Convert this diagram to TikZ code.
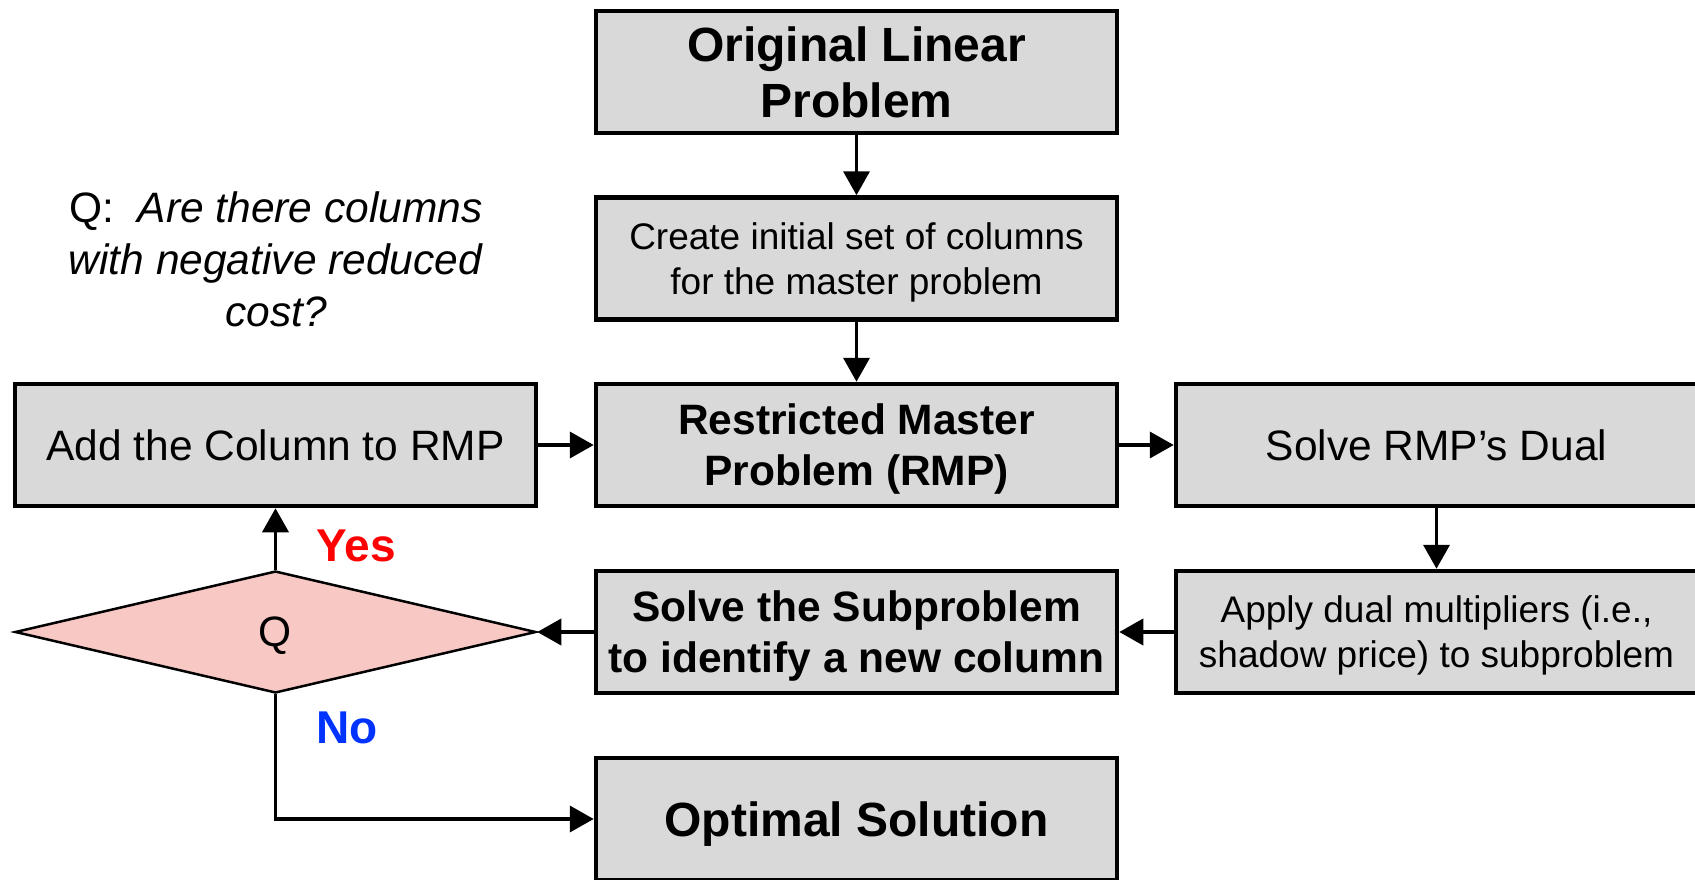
\documentclass[tikz,border=0pt]{standalone}
\usepackage{fontspec}
\setmainfont{Liberation Sans}
\usetikzlibrary{arrows.meta,shapes.geometric}
\definecolor{boxgray}{HTML}{D9D9D9}
\definecolor{qpink}{HTML}{F8C8C4}
\definecolor{yesred}{HTML}{FF0000}
\definecolor{noblue}{HTML}{0033FF}
\begin{document}
\begin{tikzpicture}[x=1bp,y=-1bp,
  flowbox/.style={draw=black, line width=4.5bp, fill=boxgray, minimum width=521bp,
    minimum height=122bp, inner sep=0pt, align=center, text depth=0pt},
  bigbold/.style={font=\fontsize{48bp}{56bp}\selectfont\bfseries},
  midbold/.style={font=\fontsize{42.5bp}{51bp}\selectfont\bfseries},
  midreg/.style={font=\fontsize{42.5bp}{51bp}\selectfont},
  smallreg/.style={font=\fontsize{37bp}{45bp}\selectfont},
  conn/.style={line width=3.8bp, draw=black, -{Triangle[length=24bp,width=26bp]}},
  decision/.style={diamond, draw=black, line width=2.5bp, fill=qpink, minimum width=521bp,
    minimum height=122bp, inner sep=0pt, text depth=0pt, font=\fontsize{42.5bp}{50bp}\selectfont},
  answer/.style={font=\fontsize{46bp}{52bp}\selectfont\bfseries, inner sep=0pt}
]
\useasboundingbox (0,0) rectangle (1695,879);

\node[flowbox, bigbold] (orig) at (856.5,72) {Original Linear\\Problem};
\node[flowbox, smallreg] (init) at (856.5,258.5) {Create initial set of columns\\for the master problem};
\node[flowbox, midbold] (rmp) at (856.5,445) {Restricted Master\\Problem (RMP)};
\node[flowbox, midreg] (add) at (275.5,445) {Add the Column to RMP};
\node[flowbox, midreg] (dual) at (1436.5,445) {Solve RMP’s Dual};
\node[flowbox, smallreg] (apply) at (1436.5,632) {Apply dual multipliers (i.e.,\\shadow price) to subproblem};
\node[flowbox, midbold] (sub) at (856.5,632) {Solve the Subproblem\\to identify a new column};
\node[flowbox, bigbold] (opt) at (856.5,819) {Optimal Solution};
\node[decision] (q) at (275.5,632) {Q};

\node[align=center, inner sep=0pt, font=\fontsize{42.5bp}{52bp}\selectfont] (qtext) at (276,259)
  {Q:\hspace{0.55em}\textit{Are there columns}\\\textit{with negative reduced}\\\textit{cost?}};

\node[answer, text=yesred] (yes) at (356,546) {Yes};
\node[answer, text=noblue] (no) at (347,728) {No};

\draw[conn] (orig) -- (init);
\draw[conn] (init) -- (rmp);
\draw[conn] (add) -- (rmp);
\draw[conn] (rmp) -- (dual);
\draw[conn] (dual) -- (apply);
\draw[conn] (apply) -- (sub);
\draw[conn] (sub) -- (q.east);
\draw[conn] (q.north) -- (add);
\draw[conn] (q.south) -- (q.south |- opt.west) -- (opt.west);
\end{tikzpicture}
\end{document}
